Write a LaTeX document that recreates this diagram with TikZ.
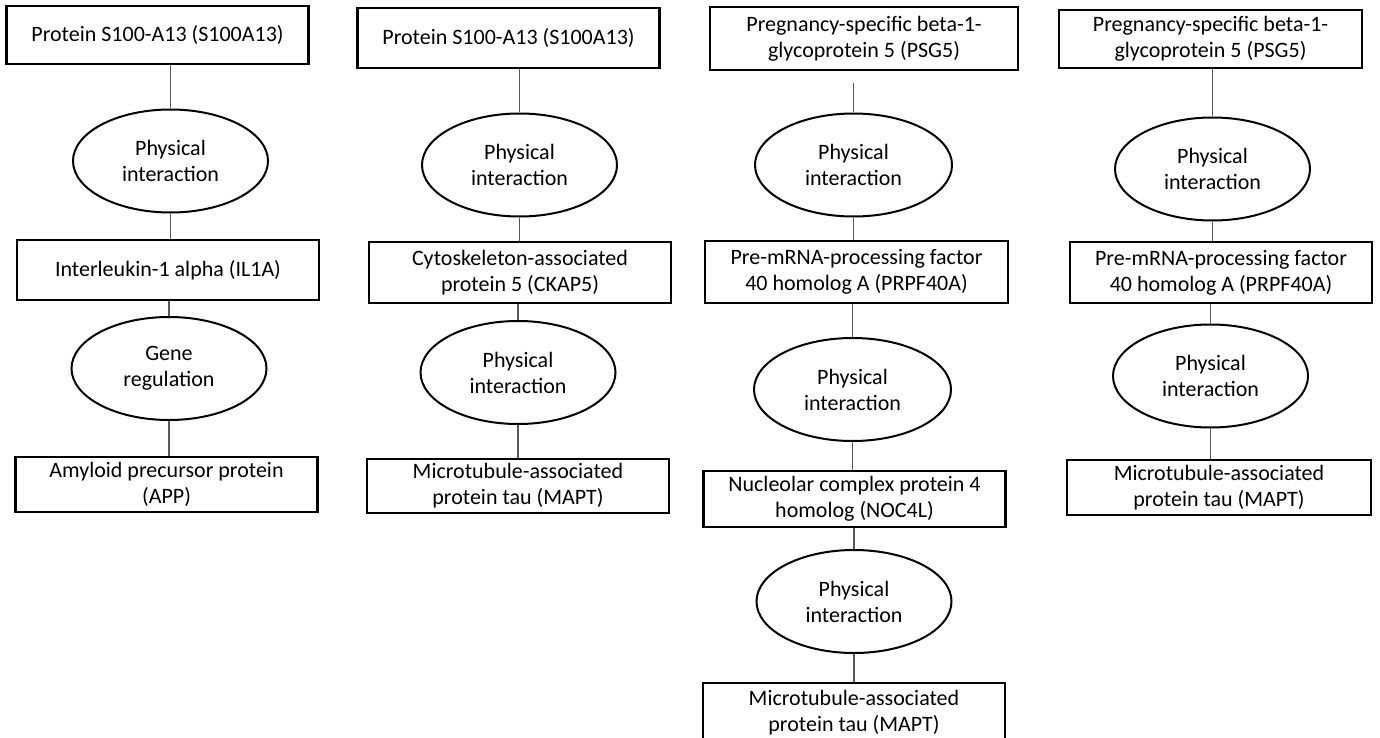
\documentclass[tikz,border=0pt]{standalone}
\usepackage{fontspec}
\setmainfont{Carlito}
\usetikzlibrary{shapes.geometric,positioning}

\begin{document}
\begin{tikzpicture}[
    x=1pt, y=-1pt,
    protein/.style={rectangle, draw=black, line width=2.2pt, minimum width=302pt, minimum height=60pt, align=center, inner sep=0pt, font=\fontsize{22}{26}\selectfont},
    interaction/.style={ellipse, draw=black, line width=2pt, minimum width=195pt, minimum height=103pt, inner sep=0pt, align=center, font=\fontsize{22}{26}\selectfont},
    link/.style={draw=black!65, line width=1.2pt}
]
\useasboundingbox (0,0) rectangle (1380,738);

% first chain
\node[protein, minimum height=58pt] (p11) at (157.5,35) {Protein S100-A13 (S100A13)};
\node[interaction] (e11) at (170.5,161) {Physical\\interaction};
\node[protein] (p12) at (168,270) {Interleukin-1 alpha (IL1A)};
\node[interaction] (e12) at (169,368.5) {Gene\\regulation};
\node[protein, minimum height=55pt] (p13) at (166.5,484.5) {Amyloid precursor protein\\(APP)};

% second chain
\node[protein] (p21) at (508.5,38) {Protein S100-A13 (S100A13)};
\node[interaction] (e21) at (519.5,165) {Physical\\interaction};
\node[protein, minimum height=61pt] (p22) at (520,272.5) {Cytoskeleton-associated\\protein 5 (CKAP5)};
\node[interaction] (e22) at (518,372.5) {Physical\\interaction};
\node[protein, minimum height=54pt] (p23) at (518,486) {Microtubule-associated\\protein tau (MAPT)};

% third chain
\node[protein, minimum width=308pt, minimum height=63pt] (p31) at (864,38.5) {Pregnancy-specific beta-1-\\glycoprotein 5 (PSG5)};
\node[interaction, minimum width=197pt] (e31) at (853.5,165) {Physical\\interaction};
\node[protein, minimum width=303pt, minimum height=62pt] (p32) at (856.5,272) {Pre-mRNA-processing factor\\40 homolog A (PRPF40A)};
\node[interaction, minimum width=197pt] (e32) at (852.5,389.5) {Physical\\interaction};
\node[protein, minimum height=56pt] (p33) at (854.5,499) {Nucleolar complex protein 4\\homolog (NOC4L)};
\node[interaction] (e33) at (854,601.5) {Physical\\interaction};
\node[protein] (p34) at (854,713) {Microtubule-associated\\protein tau (MAPT)};

% fourth chain
\node[protein, minimum width=303pt, minimum height=58pt] (p41) at (1210.5,39) {Pregnancy-specific beta-1-\\glycoprotein 5 (PSG5)};
\node[interaction] (e41) at (1212.5,169) {Physical\\interaction};
\node[protein, minimum height=61pt] (p42) at (1221,272.5) {Pre-mRNA-processing factor\\40 homolog A (PRPF40A)};
\node[interaction] (e42) at (1210.5,376) {Physical\\interaction};
\node[protein, minimum width=304pt, minimum height=55pt] (p43) at (1219,487.5) {Microtubule-associated\\protein tau (MAPT)};

% links
\draw[link] (e11.north) -- (e11.north |- p11.south);
\draw[link] (e11.south) -- (e11.south |- p12.north);
\draw[link] (e12.north) -- (e12.north |- p12.south);
\draw[link] (e12.south) -- (e12.south |- p13.north);

\draw[link] (e21.north) -- (e21.north |- p21.south);
\draw[link] (e21.south) -- (e21.south |- p22.north);
\draw[link] (e22.north) -- (e22.north |- p22.south);
\draw[link] (e22.south) -- (e22.south |- p23.north);

\draw[link] (e31.north) -- ([yshift=-12pt]e31.north |- p31.south);
\draw[link] (e31.south) -- (e31.south |- p32.north);
\draw[link] (e32.north) -- (e32.north |- p32.south);
\draw[link] (e32.south) -- (e32.south |- p33.north);
\draw[link] (e33.north) -- (e33.north |- p33.south);
\draw[link] (e33.south) -- (e33.south |- p34.north);

\draw[link] (e41.north) -- (e41.north |- p41.south);
\draw[link] (e41.south) -- (e41.south |- p42.north);
\draw[link] (e42.north) -- (e42.north |- p42.south);
\draw[link] (e42.south) -- (e42.south |- p43.north);

\end{tikzpicture}
\end{document}
